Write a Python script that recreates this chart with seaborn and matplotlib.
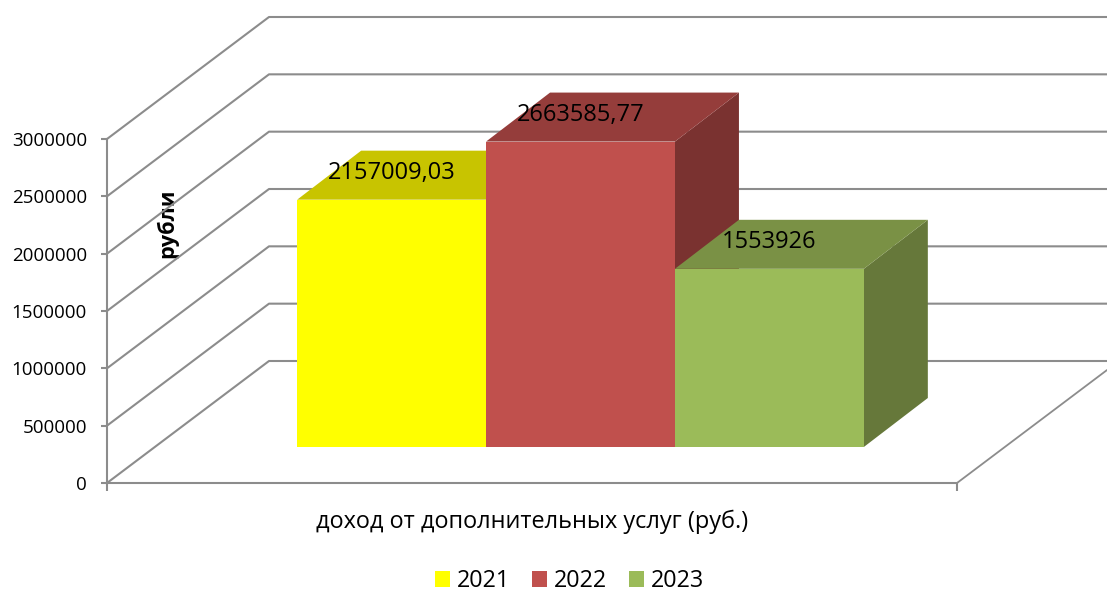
import pandas as pd
import matplotlib.pyplot as plt
import seaborn as sns
from matplotlib.patches import Polygon
from matplotlib.transforms import IdentityTransform

# values
years = ["2021", "2022", "2023"]
income = [2157009.03, 2663585.77, 1553926]
value_labels = ["2157009,03", "2663585,77", "1553926"]
category = "доход от дополнительных услуг (руб.)"
y_ticks = [0, 500000, 1000000, 1500000, 2000000, 2500000, 3000000]

front_colors = ["#FFFF00", "#C0504D", "#9BBB59"]
top_colors = ["#C8C400", "#953D3B", "#7A9145"]
side_colors = ["#9A9800", "#7A3230", "#66783A"]
line_color = "#8C8C8C"

W, H = 1107, 595
WALL_DX, WALL_DY = 162, 122  # depth of the floor in pixels
BAR_DX, BAR_DY = 64, 49      # depth of a bar in pixels

df = pd.DataFrame({"cat": [category] * 3, "year": years, "income": income})

sns.set_theme(style="white")
plt.rcParams["font.family"] = ["Open Sans", "DejaVu Sans"]
fig = plt.figure(figsize=(W / 100, H / 100), dpi=100)

# front plane with the axis, bars sit further back on the floor
ax = fig.add_axes([107 / W, (H - 483) / H, 850 / W, 344 / H], zorder=1)
ax_bars = fig.add_axes([155.5 / W, (H - 447) / H, 850 / W, 344 / H], zorder=2)
ax.patch.set_alpha(0)
ax_bars.patch.set_alpha(0)

sns.barplot(data=df, x="cat", y="income", hue="year", palette=front_colors,
            saturation=1, width=2 / 3, gap=0, linewidth=0, ax=ax_bars)
handles, labels = ax_bars.get_legend_handles_labels()
ax_bars.get_legend().remove()
ax_bars.set_xlim(-0.5, 0.5)
ax_bars.set_ylim(0, 3000000)
ax_bars.axis("off")

ax.set_xlim(0, 1)
ax.set_ylim(0, 3000000)
ax.set_yticks(y_ticks)
ax.set_yticklabels([str(t) for t in y_ticks], va="center_baseline")
ax.set_xticks([0, 1])
ax.set_xticklabels([])
sns.despine(ax=ax, top=True, right=True)
for s in ["left", "bottom"]:
    ax.spines[s].set_color(line_color)
    ax.spines[s].set_linewidth(1.5)
ax.tick_params(axis="y", left=True, length=4.5, width=1.5, color=line_color,
               labelsize=13.5, labelcolor="black", pad=10)
ax.tick_params(axis="x", bottom=True, length=6, width=1.5, color=line_color)
ax.set_xlabel(category, fontsize=16.9, color="black", labelpad=10)
ax.set_ylabel("рубли", fontsize=15.7, fontweight="bold", color="black")
ax.yaxis.set_label_coords(71 / 850, 0.755)

# gridlines running back along the side wall and across the back wall
fig.canvas.draw()
for t in y_ticks:
    x0, y0 = ax.transData.transform((0, t))
    ax.plot([x0, x0 + WALL_DX, W], [y0, y0 + WALL_DY, y0 + WALL_DY], color=line_color,
            lw=1.5, transform=IdentityTransform(), clip_on=False, zorder=1)
x1, y1 = ax.transData.transform((1, 0))
ax.plot([x1, W], [y1, y1 + (W - x1) * WALL_DY / WALL_DX], color=line_color,
        lw=1.3, transform=IdentityTransform(), clip_on=False, zorder=1)

# top and side faces of the bars from the seaborn rectangles
for i, bar in enumerate(ax_bars.patches[:3]):
    box = bar.get_window_extent()
    bar.set_zorder(5)
    top = [(box.x0, box.y1), (box.x1, box.y1), (box.x1 + BAR_DX, box.y1 + BAR_DY), (box.x0 + BAR_DX, box.y1 + BAR_DY)]
    side = [(box.x1, box.y0), (box.x1 + BAR_DX, box.y0 + BAR_DY), (box.x1 + BAR_DX, box.y1 + BAR_DY), (box.x1, box.y1)]
    ax_bars.add_patch(Polygon(side, fc=side_colors[i], ec="none", transform=IdentityTransform(),
                              clip_on=False, zorder=2 + i * 0.1))
    ax_bars.add_patch(Polygon(top, fc=top_colors[i], ec="none", transform=IdentityTransform(),
                              clip_on=False, zorder=2 + i * 0.1))
    ax_bars.annotate(value_labels[i], xy=(bar.get_x() + bar.get_width() / 2, bar.get_height()),
                     xytext=(0, 27), textcoords="offset pixels", ha="center", va="center",
                     fontsize=17, color="black", zorder=6, annotation_clip=False)

fig.legend(handles, labels, loc="center", bbox_to_anchor=(569.5 / W, (H - 581) / H), ncol=3,
           frameon=False, fontsize=16.8, labelcolor="black", handlelength=0.64, handleheight=0.64,
           handletextpad=0.3, columnspacing=0.93, borderpad=0)

fig.savefig("out.png", dpi=100)
